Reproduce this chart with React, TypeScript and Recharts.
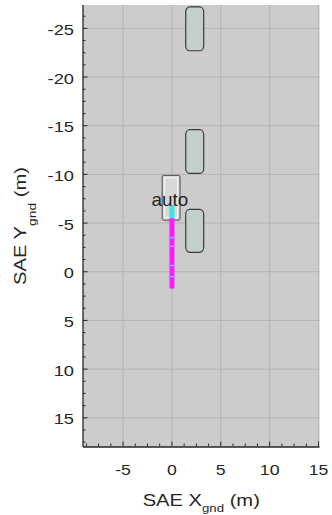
import React from 'react';
import { ComposedChart, XAxis, YAxis, CartesianGrid, ReferenceArea, Line, Scatter } from 'recharts';

// axes
const X_DOMAIN: [number, number] = [-9.1, 15.1];
const Y_DOMAIN: [number, number] = [-27.4, 18.0];
const X_TICKS = [-5, 0, 5, 10, 15];
const Y_TICKS = [-25, -20, -15, -10, -5, 0, 5, 10, 15];
const X_MINOR = [-8.75, -7.5, -6.25, -3.75, -2.5, -1.25, 1.25, 2.5, 3.75, 6.25, 7.5, 8.75, 11.25, 12.5, 13.75];
const Y_MINOR = [-26.25, -23.75, -22.5, -21.25, -18.75, -17.5, -16.25, -13.75, -12.5, -11.25, -8.75, -7.5, -6.25,
  -3.75, -2.5, -1.25, 1.25, 2.5, 3.75, 6.25, 7.5, 8.75, 11.25, 12.5, 13.75, 16.25, 17.5];
const X_TITLE = ['SAE X', 'gnd', ' (m)'];
const Y_TITLE = ['SAE Y', 'gnd', ' (m)'];

// other vehicles (m)
const carLeft = [1.41, 1.41, 1.41];
const carRight = [3.25, 3.25, 3.25];
const carFront = [-27.2, -14.6, -6.4];
const carRear = [-22.7, -10.1, -2.0];

// ego vehicle
const egoX = [-1.0, 0.83];
const egoY = [-9.9, -5.3];
const egoName = ['auto'];
const egoLabelX = [-0.2];
const egoLabelY = [-6.73];

// planned path
const cyanX = [0, 0];
const cyanY = [-6.85, -5.5];
const pathX = [0, 0];
const pathY = [-5.5, 1.73];
const markX = [0, 0, 0, 0];
const markY = [-3.5, -2.6, -0.65, 0.5];

const X_ALL = [...X_TICKS, ...X_MINOR].sort((a, b) => a - b);
const Y_ALL = [...Y_TICKS, ...Y_MINOR].sort((a, b) => a - b);
const cars = carLeft.map((l, i) => ({ x1: l, x2: carRight[i], y1: carFront[i], y2: carRear[i] }));
const cyanData = cyanX.map((x, i) => ({ x, y: cyanY[i] }));
const pathData = pathX.map((x, i) => ({ x, y: pathY[i] }));
const markData = markX.map((x, i) => ({ x, y: markY[i] }));
const labelData = egoName.map((name, i) => ({ x: egoLabelX[i], y: egoLabelY[i], name }));

const FONT = 'Liberation Sans, Arial, Helvetica, sans-serif';
const TXT = '#262626';

const StretchText = ({ x, y, rot = 0, sx = 1.2, size = 15, anchor = 'middle', children }: any) => (
  <text
    transform={`translate(${x},${y}) rotate(${rot}) scale(${sx},1)`}
    textAnchor={anchor}
    fontFamily={FONT}
    fontSize={size}
    fill={TXT}
  >
    {children}
  </text>
);

const XTick = (p: any) => {
  const v = p.payload.value;
  const major = X_TICKS.includes(v);
  const y0 = p.y - 1;
  return (
    <g>
      <line x1={p.x} x2={p.x} y1={y0} y2={y0 - (major ? 4.5 : 2.5)} stroke={TXT} strokeWidth={1} />
      {major && <StretchText x={p.x} y={y0 + 29} sx={1.18}>{v}</StretchText>}
    </g>
  );
};
const YTick = (p: any) => {
  const v = p.payload.value;
  const major = Y_TICKS.includes(v);
  return (
    <g>
      <line x1={p.x} x2={p.x + (major ? 4.5 : 2.5)} y1={p.y} y2={p.y} stroke={TXT} strokeWidth={1} />
      {major && <StretchText x={p.x - 9} y={p.y + 6.5} sx={1.22} anchor="end">{v}</StretchText>}
    </g>
  );
};

const Title = ({ x, y, rot, parts, sub, subSize }: any) => (
  <StretchText x={x} y={y} rot={rot} sx={1.26} size={16}>
    {parts[0]}
    <tspan dy={sub} fontSize={subSize}>{parts[1]}</tspan>
    <tspan dy={-sub} fontSize={16}>{parts[2]}</tspan>
  </StretchText>
);
const XTitle = (p: any) => {
  const vb = p.viewBox;
  return <Title x={vb.x + vb.width / 2} y={vb.y + 59} rot={0} parts={X_TITLE} sub={5.5} subSize={10.5} />;
};
const YTitle = (p: any) => {
  const vb = p.viewBox;
  return <Title x={vb.x + vb.width - 57.5} y={vb.y + vb.height / 2} rot={-90} parts={Y_TITLE} sub={10.5} subSize={11} />;
};

const CarShape = (p: any) => (
  <rect x={p.x} y={p.y} width={p.width} height={p.height} rx={4} ry={5}
    fill="#c3cfc9" stroke="#3a3a3a" strokeWidth={1.2} />
);
const EgoShape = (p: any) => (
  <g>
    <rect x={p.x} y={p.y} width={p.width} height={p.height} rx={1.5}
      fill="#d6d9d6" stroke="#4a4a4a" strokeWidth={1} />
    <rect x={p.x + 2.5} y={p.y + 2.5} width={p.width - 5} height={p.height - 5}
      fill="none" stroke="#f6f6f6" strokeWidth={1} />
  </g>
);
const MarkShape = (p: any) => (
  <rect x={p.cx - 3.5} y={p.cy - 0.75} width={7} height={1.5} fill="#9aa6ff" />
);
const LabelShape = (p: any) => (
  <StretchText x={p.cx} y={p.cy} sx={1.05} size={18}>{p.payload.name}</StretchText>
);

export default function App() {
  return (
    <div style={{ position: 'absolute', left: 0, top: 0, background: '#ffffff' }}>
      <ComposedChart width={332} height={515} margin={{ top: 5, right: 12.5, bottom: 67, left: 82 }}>
        <CartesianGrid fill="#cccccc" fillOpacity={1} stroke="#b3b3b3" strokeWidth={1}
          verticalValues={X_TICKS} horizontalValues={Y_TICKS} />
        <XAxis dataKey="x" type="number" domain={X_DOMAIN} ticks={X_ALL} allowDataOverflow interval={0}
          height={1} tickSize={0} tickMargin={0} tickLine={false} tick={XTick}
          axisLine={{ stroke: TXT, strokeWidth: 1.3 }} label={{ content: XTitle }} />
        <YAxis type="number" domain={Y_DOMAIN} ticks={Y_ALL} reversed allowDataOverflow interval={0}
          width={1} tickSize={0} tickMargin={0} tickLine={false} tick={YTick}
          axisLine={{ stroke: TXT, strokeWidth: 1.3 }} label={{ content: YTitle }} />
        {cars.map((c, i) => (
          <ReferenceArea key={i} x1={c.x1} x2={c.x2} y1={c.y1} y2={c.y2} shape={CarShape} />
        ))}
        <ReferenceArea x1={egoX[0]} x2={egoX[1]} y1={egoY[0]} y2={egoY[1]} shape={EgoShape} />
        <Line data={cyanData} dataKey="y" stroke="#3fe3e8" strokeWidth={5} dot={false} isAnimationActive={false} />
        <Line data={pathData} dataKey="y" stroke="#ff1aff" strokeWidth={5} dot={false} isAnimationActive={false} />
        <Scatter data={markData} dataKey="y" shape={MarkShape} isAnimationActive={false} />
        <Scatter data={labelData} dataKey="y" shape={LabelShape} isAnimationActive={false} />
      </ComposedChart>
    </div>
  );
}
